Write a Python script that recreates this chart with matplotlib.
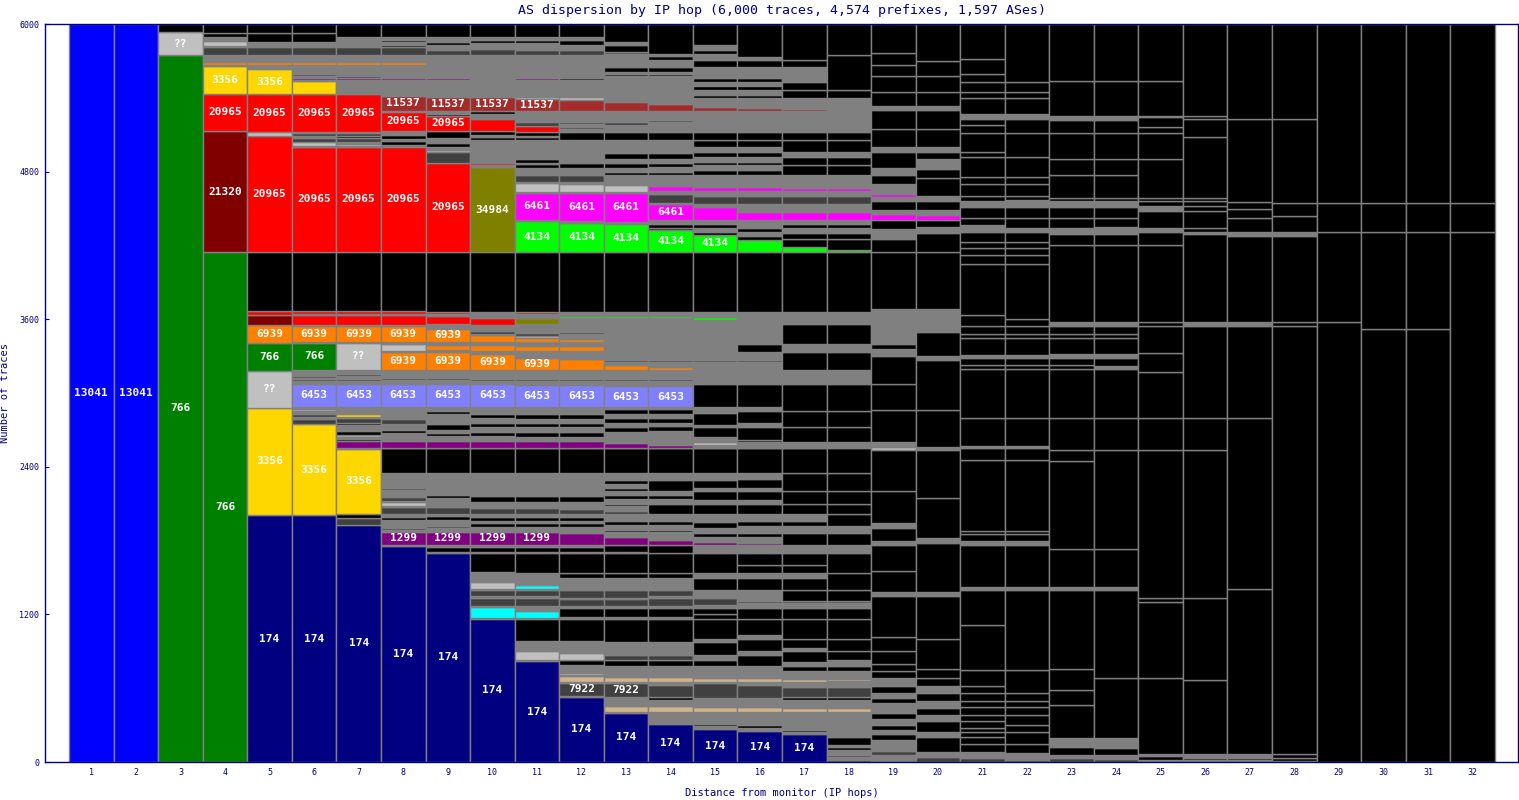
import numpy as np
import matplotlib
matplotlib.use("Agg")
import matplotlib.pyplot as plt

#------------------------------------------------------------------------
# colores por AS (codigo corto -> color)
colores = {
    'B': '#0000ff', 'G': '#008000', 'S': '#c0c0c0', 'D': '#404040',
    'g': '#808080', 'K': '#000000', 'O': '#ff8000', 'Y': '#ffd700',
    'R': '#ff0000', 'M': '#800000', 'W': '#a52a2a', 'L': '#808000',
    'P': '#ff00ff', 'E': '#00ff00', 'N': '#000080', 'V': '#8080ff',
    'U': '#800080', 'C': '#00ffff', 'T': '#d2b48c',
}

#------------------------------------------------------------------------
# datos: por salto, (tope acumulado de trazas, color, etiqueta) de abajo hacia arriba
hop1 = [(6000, 'B', '13041')]
hop2 = [(6000, 'B', '13041')]
hop3 = [(5748, 'G', '766'), (5932, 'S', '??'), (6000, 'K', '')]
hop4 = [(4146, 'G', '766'), (5130, 'M', '21320'), (5431, 'R', '20965'), (5659, 'Y', '3356'),
        (5667, 'g', ''), (5693, 'O', ''), (5705, 'g', ''), (5712, 'S', ''), (5748, 'g', ''),
        (5816, 'D', ''), (5824, 'g', ''), (5864, 'S', ''), (5897, 'g', ''), (5924, 'K', ''),
        (6000, 'K', '')]
hop5 = [(2008, 'N', '174'), (2881, 'Y', '3356'), (3179, 'S', '??'), (3409, 'G', '766'),
        (3553, 'O', '6939'), (3634, 'M', ''), (3667, 'R', ''), (4146, 'K', ''),
        (5092, 'R', '20965'), (5125, 'S', ''), (5431, 'R', '20965'), (5634, 'Y', '3356'),
        (5667, 'g', ''), (5693, 'O', ''), (5748, 'g', ''), (5816, 'D', ''), (5843, 'g', ''),
        (5856, 'K', ''), (5924, 'K', ''), (6000, 'K', '')]
hop6 = [(2008, 'N', '174'), (2745, 'Y', '3356'), (2790, 'D', ''), (2805, 'g', ''), (2830, 'D', ''),
        (2855, 'g', ''), (2870, 'S', ''), (2889, 'g', ''), (3073, 'V', '6453'), (3095, 'g', ''),
        (3110, 'D', ''), (3125, 'g', ''), (3140, 'D', ''), (3187, 'g', ''), (3409, 'G', '766'),
        (3417, 'g', ''), (3547, 'O', '6939'), (3553, 'g', ''), (3634, 'R', ''), (3642, 'g', ''),
        (3667, 'R', ''), (4146, 'K', ''), (5003, 'R', '20965'), (5011, 'g', ''), (5043, 'S', ''),
        (5070, 'D', ''), (5090, 'g', ''), (5110, 'D', ''), (5125, 'g', ''), (5431, 'R', '20965'),
        (5537, 'Y', ''), (5545, 'g', ''), (5563, 'U', ''), (5577, 'g', ''), (5590, 'D', ''),
        (5667, 'g', ''), (5693, 'O', ''), (5748, 'g', ''), (5816, 'D', ''), (5856, 'g', ''),
        (5924, 'K', ''), (6000, 'K', '')]
hop7 = [(1927, 'N', '174'), (1981, 'D', ''), (2016, 'K', ''), (2545, 'Y', '3356'), (2555, 'g', ''),
        (2610, 'U', ''), (2625, 'K', ''), (2642, 'g', ''), (2658, 'S', ''), (2690, 'K', ''),
        (2740, 'g', ''), (2756, 'K', ''), (2797, 'D', ''), (2807, 'g', ''), (2829, 'Y', ''),
        (2889, 'g', ''), (3073, 'V', '6453'), (3095, 'g', ''), (3110, 'D', ''), (3140, 'g', ''),
        (3155, 'D', ''), (3187, 'g', ''), (3409, 'S', '??'), (3417, 'g', ''), (3547, 'O', '6939'),
        (3553, 'g', ''), (3634, 'R', ''), (3642, 'g', ''), (3667, 'R', ''), (4146, 'K', ''),
        (5003, 'R', '20965'), (5011, 'g', ''), (5024, 'S', ''), (5043, 'g', ''), (5070, 'D', ''),
        (5090, 'K', ''), (5110, 'D', ''), (5125, 'g', ''), (5431, 'R', '20965'), (5450, 'g', ''),
        (5458, 'S', ''), (5545, 'g', ''), (5563, 'U', ''), (5577, 'D', ''), (5667, 'g', ''),
        (5693, 'O', ''), (5748, 'g', ''), (5816, 'D', ''), (5843, 'g', ''), (5856, 'K', ''),
        (5897, 'g', ''), (6000, 'K', '')]
hop8 = [(1758, 'N', '174'), (1764, 'g', ''), (1872, 'U', '1299'), (1890, 'g', ''), (1900, 'D', ''),
        (1935, 'g', ''), (1945, 'D', ''), (1970, 'g', ''), (1990, 'K', ''), (2016, 'g', ''),
        (2075, 'D', ''), (2081, 'g', ''), (2116, 'S', ''), (2125, 'g', ''), (2157, 'D', ''),
        (2211, 'g', ''), (2225, 'D', ''), (2347, 'g', ''), (2550, 'K', ''), (2555, 'g', ''),
        (2610, 'U', ''), (2672, 'g', ''), (2699, 'K', ''), (2748, 'g', ''), (2786, 'D', ''),
        (2840, 'g', ''), (2848, 'D', ''), (2889, 'g', ''), (3073, 'V', '6453'), (3106, 'g', ''),
        (3119, 'D', ''), (3187, 'g', ''), (3336, 'O', '6939'), (3344, 'g', ''), (3398, 'S', ''),
        (3417, 'g', ''), (3547, 'O', '6939'), (3553, 'g', ''), (3634, 'R', ''), (3642, 'g', ''),
        (3667, 'R', ''), (4146, 'K', ''), (5003, 'R', '20965'), (5011, 'g', ''), (5018, 'S', ''),
        (5050, 'K', ''), (5065, 'g', ''), (5100, 'K', ''), (5130, 'g', ''), (5287, 'R', '20965'),
        (5295, 'g', ''), (5415, 'W', '11537'), (5545, 'g', ''), (5563, 'U', ''), (5667, 'g', ''),
        (5693, 'O', ''), (5748, 'g', ''), (5816, 'D', ''), (5830, 'K', ''), (5856, 'g', ''),
        (5870, 'K', ''), (5897, 'g', ''), (6000, 'K', '')]
hop9 = [(1702, 'N', '174'), (1709, 'g', ''), (1750, 'K', ''), (1764, 'g', ''), (1872, 'U', '1299'),
        (1900, 'g', ''), (1915, 'D', ''), (1967, 'g', ''), (2000, 'K', ''), (2016, 'g', ''),
        (2075, 'D', ''), (2090, 'g', ''), (2095, 'S', ''), (2150, 'g', ''), (2170, 'K', ''),
        (2347, 'g', ''), (2550, 'K', ''), (2555, 'g', ''), (2610, 'U', ''), (2650, 'g', ''),
        (2672, 'K', ''), (2699, 'g', ''), (2750, 'K', ''), (2790, 'g', ''), (2800, 'S', ''),
        (2830, 'g', ''), (2850, 'K', ''), (2889, 'g', ''), (3073, 'V', '6453'), (3106, 'g', ''),
        (3119, 'D', ''), (3187, 'g', ''), (3336, 'O', '6939'), (3350, 'g', ''), (3390, 'O', ''),
        (3417, 'g', ''), (3520, 'O', '6939'), (3561, 'g', ''), (3626, 'R', ''), (3642, 'g', ''),
        (3660, 'R', ''), (4146, 'K', ''), (4872, 'R', '20965'), (4957, 'D', ''), (4976, 'S', ''),
        (5000, 'g', ''), (5030, 'K', ''), (5073, 'g', ''), (5130, 'K', ''), (5254, 'R', '20965'),
        (5266, 'K', ''), (5295, 'g', ''), (5404, 'W', '11537'), (5545, 'g', ''), (5563, 'U', ''),
        (5672, 'g', ''), (5680, 'O', ''), (5748, 'g', ''), (5789, 'D', ''), (5830, 'g', ''),
        (5856, 'K', ''), (5897, 'g', ''), (6000, 'K', '')]
hop10 = [(1163, 'N', '174'), (1168, 'g', ''), (1258, 'C', ''), (1268, 'g', ''), (1336, 'D', ''),
         (1346, 'g', ''), (1398, 'D', ''), (1407, 'g', ''), (1466, 'S', ''), (1534, 'g', ''),
         (1542, 'K', ''), (1702, 'K', ''), (1710, 'g', ''), (1750, 'K', ''), (1764, 'g', ''),
         (1872, 'U', '1299'), (1913, 'g', ''), (1940, 'K', ''), (1960, 'g', ''), (1990, 'K', ''),
         (2016, 'g', ''), (2062, 'D', ''), (2116, 'g', ''), (2160, 'K', ''), (2347, 'g', ''),
         (2550, 'K', ''), (2555, 'g', ''), (2610, 'U', ''), (2650, 'g', ''), (2680, 'K', ''),
         (2720, 'g', ''), (2760, 'K', ''), (2800, 'g', ''), (2830, 'K', ''), (2889, 'g', ''),
         (3073, 'V', '6453'), (3100, 'g', ''), (3110, 'D', ''), (3187, 'g', ''), (3317, 'O', '6939'),
         (3344, 'g', ''), (3390, 'O', ''), (3417, 'g', ''), (3472, 'O', ''), (3480, 'g', ''),
         (3507, 'D', ''), (3553, 'g', ''), (3612, 'R', ''), (3648, 'g', ''), (3661, 'W', ''),
         (4146, 'K', ''), (4834, 'L', '34984'), (4854, 'g', ''), (4866, 'R', ''), (4900, 'g', ''),
         (4908, 'S', ''), (4921, 'g', ''), (4930, 'P', ''), (4955, 'g', ''), (4962, 'P', ''),
         (5057, 'g', ''), (5080, 'K', ''), (5100, 'g', ''), (5130, 'K', ''), (5228, 'R', ''),
         (5266, 'g', ''), (5295, 'K', ''), (5404, 'W', '11537'), (5553, 'g', ''), (5563, 'U', ''),
         (5748, 'g', ''), (5794, 'D', ''), (5843, 'g', ''), (5870, 'K', ''), (5897, 'g', ''),
         (6000, 'K', '')]
hop11 = [(821, 'N', '174'), (829, 'g', ''), (902, 'S', ''), (984, 'g', ''), (1163, 'K', ''),
         (1168, 'g', ''), (1230, 'C', ''), (1268, 'g', ''), (1336, 'D', ''), (1346, 'g', ''),
         (1398, 'D', ''), (1406, 'g', ''), (1439, 'C', ''), (1470, 'g', ''), (1480, 'D', ''),
         (1534, 'g', ''), (1702, 'K', ''), (1710, 'g', ''), (1750, 'K', ''), (1764, 'g', ''),
         (1872, 'U', '1299'), (1913, 'g', ''), (1940, 'K', ''), (1960, 'g', ''), (1990, 'K', ''),
         (2016, 'g', ''), (2062, 'D', ''), (2116, 'g', ''), (2160, 'K', ''), (2347, 'g', ''),
         (2550, 'K', ''), (2555, 'g', ''), (2610, 'U', ''), (2640, 'g', ''), (2680, 'K', ''),
         (2720, 'g', ''), (2760, 'K', ''), (2790, 'g', ''), (2830, 'K', ''), (2889, 'g', ''),
         (3062, 'V', '6453'), (3100, 'g', ''), (3115, 'D', ''), (3187, 'g', ''), (3286, 'O', '6939'),
         (3344, 'g', ''), (3380, 'O', ''), (3417, 'g', ''), (3450, 'O', ''), (3460, 'S', ''),
         (3490, 'D', ''), (3561, 'g', ''), (3612, 'L', ''), (3640, 'g', ''), (3655, 'W', ''),
         (4146, 'K', ''), (4398, 'E', '4134'), (4407, 'g', ''), (4629, 'P', '6461'), (4637, 'g', ''),
         (4710, 'S', ''), (4718, 'g', ''), (4772, 'D', ''), (4827, 'g', ''), (4860, 'K', ''),
         (4870, 'g', ''), (4902, 'K', ''), (4910, 'P', ''), (4950, 'g', ''), (4962, 'P', ''),
         (5057, 'g', ''), (5080, 'K', ''), (5090, 'g', ''), (5125, 'K', ''), (5173, 'R', ''),
         (5206, 'D', ''), (5295, 'g', ''), (5390, 'W', '11537'), (5404, 'S', ''), (5545, 'g', ''),
         (5563, 'U', ''), (5748, 'g', ''), (5789, 'D', ''), (5843, 'g', ''), (5870, 'K', ''),
         (5897, 'g', ''), (6000, 'K', '')]
hop12 = [(531, 'N', '174'), (537, 'g', ''), (645, 'D', '7922'), (648, 'g', ''), (699, 'T', ''),
         (705, 'g', ''), (720, 'S', ''), (789, 'g', ''), (829, 'K', ''), (889, 'S', ''),
         (915, 'g', ''), (930, 'D', ''), (984, 'g', ''), (1163, 'K', ''), (1173, 'g', ''),
         (1181, 'C', ''), (1255, 'K', ''), (1268, 'g', ''), (1325, 'D', ''), (1336, 'g', ''),
         (1398, 'D', ''), (1420, 'g', ''), (1430, 'K', ''), (1493, 'g', ''), (1534, 'K', ''),
         (1702, 'K', ''), (1710, 'g', ''), (1750, 'K', ''), (1764, 'g', ''), (1859, 'U', ''),
         (1913, 'g', ''), (1940, 'K', ''), (1960, 'g', ''), (1990, 'K', ''), (2016, 'g', ''),
         (2058, 'D', ''), (2116, 'g', ''), (2160, 'K', ''), (2347, 'g', ''), (2550, 'K', ''),
         (2555, 'g', ''), (2610, 'U', ''), (2640, 'g', ''), (2680, 'K', ''), (2720, 'g', ''),
         (2760, 'K', ''), (2790, 'g', ''), (2830, 'K', ''), (2889, 'g', ''), (3062, 'V', '6453'),
         (3100, 'g', ''), (3115, 'D', ''), (3187, 'g', ''), (3276, 'O', ''), (3344, 'g', ''),
         (3380, 'O', ''), (3417, 'g', ''), (3440, 'O', ''), (3480, 'g', ''), (3500, 'D', ''),
         (3590, 'g', ''), (3605, 'P', ''), (3612, 'g', ''), (3622, 'E', ''), (3660, 'g', ''),
         (4146, 'K', ''), (4386, 'E', '4134'), (4398, 'g', ''), (4629, 'P', '6461'), (4637, 'g', ''),
         (4700, 'S', ''), (4718, 'g', ''), (4772, 'D', ''), (4827, 'g', ''), (4870, 'K', ''),
         (4902, 'g', ''), (4910, 'P', ''), (4950, 'g', ''), (4962, 'P', ''), (5057, 'g', ''),
         (5125, 'K', ''), (5150, 'g', ''), (5160, 'D', ''), (5190, 'g', ''), (5206, 'D', ''),
         (5295, 'g', ''), (5382, 'W', ''), (5404, 'S', ''), (5545, 'g', ''), (5563, 'K', ''),
         (5748, 'g', ''), (5789, 'D', ''), (5830, 'g', ''), (5870, 'K', ''), (5897, 'g', ''),
         (6000, 'K', '')]
hop13 = [(401, 'N', '174'), (404, 'g', ''), (458, 'T', ''), (465, 'g', ''), (472, 'S', ''),
         (531, 'g', ''), (640, 'D', '7922'), (648, 'g', ''), (692, 'T', ''), (784, 'g', ''),
         (829, 'K', ''), (870, 'D', ''), (978, 'g', ''), (1163, 'K', ''), (1173, 'g', ''),
         (1181, 'C', ''), (1255, 'K', ''), (1268, 'g', ''), (1325, 'D', ''), (1336, 'g', ''),
         (1398, 'D', ''), (1493, 'g', ''), (1534, 'K', ''), (1702, 'K', ''), (1710, 'g', ''),
         (1764, 'K', ''), (1827, 'U', ''), (1870, 'g', ''), (1890, 'K', ''), (1930, 'g', ''),
         (1960, 'K', ''), (2016, 'g', ''), (2040, 'D', ''), (2080, 'g', ''), (2100, 'K', ''),
         (2140, 'g', ''), (2170, 'K', ''), (2200, 'g', ''), (2230, 'K', ''), (2260, 'g', ''),
         (2290, 'K', ''), (2347, 'g', ''), (2550, 'K', ''), (2555, 'g', ''), (2590, 'U', ''),
         (2640, 'g', ''), (2652, 'S', ''), (2680, 'g', ''), (2720, 'K', ''), (2760, 'g', ''),
         (2800, 'K', ''), (2830, 'g', ''), (2870, 'K', ''), (2889, 'g', ''), (3054, 'V', '6453'),
         (3100, 'g', ''), (3115, 'D', ''), (3187, 'g', ''), (3228, 'O', ''), (3250, 'g', ''),
         (3265, 'D', ''), (3340, 'g', ''), (3350, 'O', ''), (3430, 'g', ''), (3440, 'D', ''),
         (3590, 'g', ''), (3605, 'P', ''), (3612, 'g', ''), (3622, 'E', ''), (3660, 'g', ''),
         (4146, 'K', ''), (4374, 'E', '4134'), (4393, 'g', ''), (4624, 'P', '6461'), (4637, 'g', ''),
         (4691, 'S', ''), (4772, 'g', ''), (4800, 'K', ''), (4830, 'g', ''), (4870, 'K', ''),
         (4900, 'g', ''), (4948, 'K', ''), (5057, 'g', ''), (5125, 'K', ''), (5179, 'g', ''),
         (5206, 'D', ''), (5295, 'g', ''), (5368, 'W', ''), (5577, 'g', ''), (5590, 'K', ''),
         (5612, 'g', ''), (5653, 'K', ''), (5756, 'g', ''), (5775, 'D', ''), (5830, 'K', ''),
         (5850, 'g', ''), (6000, 'K', '')]
hop14 = [(309, 'N', '174'), (404, 'g', ''), (458, 'T', ''), (504, 'g', ''), (531, 'K', ''),
         (626, 'D', ''), (648, 'g', ''), (694, 'T', ''), (783, 'g', ''), (829, 'K', ''),
         (870, 'D', ''), (978, 'g', ''), (1163, 'K', ''), (1173, 'g', ''), (1181, 'C', ''),
         (1255, 'K', ''), (1268, 'g', ''), (1336, 'D', ''), (1346, 'g', ''), (1398, 'D', ''),
         (1493, 'g', ''), (1534, 'K', ''), (1702, 'K', ''), (1764, 'K', ''), (1805, 'U', ''),
         (1870, 'g', ''), (1890, 'K', ''), (1930, 'g', ''), (1960, 'K', ''), (2016, 'g', ''),
         (2100, 'K', ''), (2140, 'g', ''), (2170, 'K', ''), (2200, 'g', ''), (2290, 'K', ''),
         (2347, 'g', ''), (2550, 'K', ''), (2555, 'g', ''), (2580, 'U', ''), (2640, 'g', ''),
         (2652, 'S', ''), (2690, 'g', ''), (2730, 'K', ''), (2760, 'g', ''), (2800, 'K', ''),
         (2830, 'g', ''), (2870, 'K', ''), (2889, 'g', ''), (3054, 'V', '6453'), (3100, 'g', ''),
         (3115, 'D', ''), (3187, 'g', ''), (3210, 'O', ''), (3250, 'g', ''), (3265, 'D', ''),
         (3330, 'g', ''), (3338, 'O', ''), (3590, 'g', ''), (3605, 'P', ''), (3612, 'g', ''),
         (3622, 'E', ''), (3660, 'g', ''), (4146, 'K', ''), (4325, 'E', '4134'), (4345, 'K', ''),
         (4374, 'K', ''), (4407, 'g', ''), (4537, 'P', '6461'), (4548, 'g', ''), (4618, 'D', ''),
         (4644, 'g', ''), (4683, 'P', ''), (4772, 'g', ''), (4800, 'K', ''), (4840, 'g', ''),
         (4870, 'K', ''), (4900, 'g', ''), (4948, 'K', ''), (5057, 'g', ''), (5125, 'K', ''),
         (5206, 'g', ''), (5220, 'D', ''), (5295, 'g', ''), (5350, 'W', ''), (5577, 'g', ''),
         (5590, 'K', ''), (5612, 'g', ''), (5653, 'K', ''), (5707, 'g', ''), (5740, 'K', ''),
         (5760, 'g', ''), (6000, 'K', '')]
hop15 = [(268, 'N', '174'), (290, 'g', ''), (310, 'K', ''), (409, 'g', ''), (450, 'T', ''),
         (523, 'g', ''), (640, 'D', ''), (652, 'g', ''), (680, 'T', ''), (784, 'g', ''),
         (829, 'K', ''), (870, 'g', ''), (978, 'K', ''), (1000, 'g', ''), (1163, 'K', ''),
         (1200, 'K', ''), (1255, 'K', ''), (1280, 'g', ''), (1336, 'D', ''), (1398, 'g', ''),
         (1493, 'K', ''), (1534, 'g', ''), (1702, 'K', ''), (1764, 'g', ''), (1789, 'U', ''),
         (1830, 'g', ''), (1860, 'K', ''), (1900, 'g', ''), (1950, 'K', ''), (2016, 'g', ''),
         (2100, 'K', ''), (2130, 'g', ''), (2200, 'K', ''), (2230, 'g', ''), (2290, 'K', ''),
         (2347, 'g', ''), (2550, 'K', ''), (2555, 'g', ''), (2565, 'U', ''), (2580, 'g', ''),
         (2600, 'S', ''), (2640, 'g', ''), (2720, 'K', ''), (2740, 'g', ''), (2840, 'K', ''),
         (2889, 'g', ''), (3073, 'K', ''), (3250, 'g', ''), (3265, 'D', ''), (3590, 'g', ''),
         (3615, 'E', ''), (3660, 'g', ''), (4146, 'K', ''), (4285, 'E', '4134'), (4310, 'K', ''),
         (4340, 'g', ''), (4374, 'K', ''), (4407, 'g', ''), (4512, 'P', ''), (4540, 'g', ''),
         (4600, 'D', ''), (4644, 'g', ''), (4675, 'P', ''), (4772, 'g', ''), (4810, 'K', ''),
         (4850, 'g', ''), (4880, 'K', ''), (4920, 'g', ''), (4960, 'K', ''), (5000, 'g', ''),
         (5057, 'K', ''), (5125, 'K', ''), (5296, 'g', ''), (5325, 'W', ''), (5400, 'g', ''),
         (5420, 'K', ''), (5460, 'g', ''), (5500, 'K', ''), (5530, 'g', ''), (5560, 'K', ''),
         (5653, 'g', ''), (5710, 'K', ''), (5760, 'g', ''), (5790, 'K', ''), (5830, 'g', ''),
         (6000, 'K', '')]
hop16 = [(252, 'N', '174'), (276, 'g', ''), (300, 'K', ''), (409, 'g', ''), (450, 'T', ''),
         (523, 'g', ''), (630, 'D', ''), (652, 'g', ''), (680, 'T', ''), (784, 'g', ''),
         (870, 'K', ''), (900, 'g', ''), (1000, 'K', ''), (1030, 'g', ''), (1163, 'K', ''),
         (1255, 'K', ''), (1290, 'g', ''), (1310, 'D', ''), (1398, 'g', ''), (1500, 'K', ''),
         (1534, 'g', ''), (1600, 'K', ''), (1702, 'K', ''), (1764, 'g', ''), (1778, 'U', ''),
         (1830, 'g', ''), (1860, 'K', ''), (1920, 'g', ''), (1960, 'K', ''), (2016, 'g', ''),
         (2100, 'K', ''), (2130, 'g', ''), (2200, 'K', ''), (2230, 'g', ''), (2300, 'K', ''),
         (2347, 'g', ''), (2550, 'K', ''), (2555, 'g', ''), (2562, 'U', ''), (2600, 'g', ''),
         (2620, 'K', ''), (2720, 'K', ''), (2760, 'g', ''), (2850, 'K', ''), (2889, 'g', ''),
         (3073, 'K', ''), (3250, 'g', ''), (3265, 'D', ''), (3330, 'g', ''), (3400, 'K', ''),
         (3660, 'g', ''), (4146, 'K', ''), (4244, 'E', ''), (4280, 'K', ''), (4310, 'g', ''),
         (4340, 'K', ''), (4407, 'g', ''), (4472, 'P', ''), (4540, 'g', ''), (4600, 'D', ''),
         (4644, 'g', ''), (4675, 'P', ''), (4772, 'g', ''), (4810, 'K', ''), (4850, 'g', ''),
         (4880, 'K', ''), (4920, 'g', ''), (4960, 'K', ''), (5000, 'g', ''), (5057, 'K', ''),
         (5125, 'K', ''), (5296, 'g', ''), (5315, 'W', ''), (5400, 'g', ''), (5420, 'K', ''),
         (5460, 'g', ''), (5500, 'K', ''), (5530, 'g', ''), (5560, 'K', ''), (5653, 'g', ''),
         (5710, 'K', ''), (5730, 'g', ''), (6000, 'K', '')]
hop17 = [(225, 'N', '174'), (240, 'g', ''), (260, 'K', ''), (409, 'g', ''), (437, 'T', ''),
         (504, 'g', ''), (531, 'K', ''), (612, 'D', ''), (652, 'g', ''), (672, 'T', ''),
         (740, 'g', ''), (784, 'K', ''), (810, 'g', ''), (900, 'K', ''), (930, 'g', ''),
         (1000, 'K', ''), (1163, 'K', ''), (1255, 'K', ''), (1290, 'g', ''), (1310, 'D', ''),
         (1398, 'K', ''), (1500, 'K', ''), (1534, 'g', ''), (1600, 'K', ''), (1702, 'K', ''),
         (1764, 'g', ''), (1860, 'K', ''), (1920, 'g', ''), (1960, 'K', ''), (2016, 'g', ''),
         (2100, 'K', ''), (2200, 'K', ''), (2347, 'K', ''), (2550, 'K', ''), (2555, 'g', ''),
         (2562, 'U', ''), (2600, 'g', ''), (2720, 'K', ''), (2850, 'K', ''), (3073, 'K', ''),
         (3187, 'g', ''), (3330, 'K', ''), (3400, 'g', ''), (3560, 'K', ''), (3660, 'g', ''),
         (4146, 'K', ''), (4187, 'E', ''), (4250, 'K', ''), (4300, 'K', ''), (4340, 'g', ''),
         (4374, 'K', ''), (4407, 'g', ''), (4472, 'P', ''), (4540, 'g', ''), (4600, 'D', ''),
         (4644, 'g', ''), (4665, 'P', ''), (4772, 'g', ''), (4850, 'K', ''), (4920, 'K', ''),
         (4960, 'g', ''), (5057, 'K', ''), (5125, 'K', ''), (5296, 'g', ''), (5310, 'W', ''),
         (5400, 'g', ''), (5460, 'K', ''), (5530, 'K', ''), (5653, 'g', ''), (5710, 'K', ''),
         (6000, 'K', '')]
hop18 = [(20, 'D', ''), (40, 'g', ''), (60, 'D', ''), (100, 'g', ''), (120, 'K', ''),
         (140, 'g', ''), (203, 'K', ''), (409, 'g', ''), (437, 'T', ''), (504, 'g', ''),
         (531, 'K', ''), (612, 'D', ''), (660, 'g', ''), (672, 'T', ''), (740, 'g', ''),
         (784, 'K', ''), (830, 'g', ''), (900, 'K', ''), (1000, 'K', ''), (1163, 'K', ''),
         (1255, 'K', ''), (1290, 'g', ''), (1310, 'D', ''), (1398, 'K', ''), (1534, 'K', ''),
         (1702, 'K', ''), (1764, 'g', ''), (1860, 'K', ''), (1920, 'g', ''), (2016, 'K', ''),
         (2100, 'K', ''), (2200, 'K', ''), (2347, 'K', ''), (2555, 'K', ''), (2600, 'g', ''),
         (2720, 'K', ''), (2850, 'K', ''), (3073, 'K', ''), (3187, 'g', ''), (3330, 'K', ''),
         (3400, 'g', ''), (3560, 'K', ''), (3660, 'g', ''), (4146, 'K', ''), (4165, 'E', ''),
         (4250, 'K', ''), (4300, 'K', ''), (4340, 'g', ''), (4374, 'K', ''), (4407, 'g', ''),
         (4472, 'P', ''), (4540, 'g', ''), (4600, 'D', ''), (4644, 'g', ''), (4665, 'P', ''),
         (4772, 'g', ''), (4850, 'K', ''), (4920, 'K', ''), (4960, 'g', ''), (5057, 'K', ''),
         (5125, 'K', ''), (5296, 'g', ''), (5400, 'g', ''), (5460, 'K', ''), (5748, 'K', ''),
         (6000, 'K', '')]
hop19 = [(60, 'g', ''), (90, 'D', ''), (180, 'g', ''), (230, 'K', ''), (260, 'g', ''),
         (300, 'K', ''), (350, 'g', ''), (400, 'K', ''), (430, 'g', ''), (437, 'T', ''),
         (480, 'g', ''), (520, 'K', ''), (560, 'g', ''), (620, 'K', ''), (680, 'g', ''),
         (740, 'K', ''), (800, 'K', ''), (900, 'K', ''), (1020, 'K', ''), (1350, 'K', ''),
         (1380, 'g', ''), (1550, 'K', ''), (1764, 'K', ''), (1800, 'g', ''), (1900, 'K', ''),
         (1940, 'g', ''), (2200, 'K', ''), (2540, 'K', ''), (2560, 'S', ''), (2600, 'g', ''),
         (2860, 'K', ''), (3073, 'K', ''), (3300, 'K', ''), (3360, 'g', ''), (3400, 'K', ''),
         (3500, 'g', ''), (3680, 'g', ''), (4146, 'K', ''), (4250, 'K', ''), (4330, 'g', ''),
         (4407, 'K', ''), (4455, 'P', ''), (4490, 'g', ''), (4560, 'K', ''), (4590, 'g', ''),
         (4620, 'P', ''), (4700, 'g', ''), (4770, 'K', ''), (4830, 'g', ''), (4962, 'K', ''),
         (5003, 'g', ''), (5150, 'K', ''), (5300, 'K', ''), (5333, 'g', ''), (5450, 'K', ''),
         (5577, 'K', ''), (5667, 'K', ''), (5762, 'K', ''), (6000, 'K', '')]
hop20 = [(40, 'D', ''), (85, 'g', ''), (200, 'K', ''), (240, 'g', ''), (330, 'K', ''),
         (380, 'g', ''), (440, 'K', ''), (500, 'g', ''), (560, 'K', ''), (620, 'g', ''),
         (680, 'K', ''), (760, 'K', ''), (1000, 'K', ''), (1350, 'K', ''), (1380, 'g', ''),
         (1780, 'K', ''), (1820, 'g', ''), (2150, 'K', ''), (2540, 'K', ''), (2560, 'g', ''),
         (2860, 'K', ''), (3270, 'K', ''), (3300, 'g', ''), (3500, 'K', ''), (3680, 'g', ''),
         (4146, 'K', ''), (4300, 'K', ''), (4350, 'g', ''), (4407, 'K', ''), (4450, 'P', ''),
         (4490, 'g', ''), (4560, 'K', ''), (4600, 'g', ''), (4750, 'K', ''), (4820, 'K', ''),
         (4900, 'g', ''), (4962, 'K', ''), (5003, 'g', ''), (5150, 'K', ''), (5300, 'K', ''),
         (5333, 'g', ''), (5450, 'K', ''), (5577, 'K', ''), (5700, 'K', ''), (6000, 'K', '')]
hop21 = [(30, 'D', ''), (84, 'g', ''), (150, 'K', ''), (200, 'K', ''), (240, 'K', ''),
         (280, 'K', ''), (330, 'K', ''), (380, 'K', ''), (450, 'K', ''), (500, 'K', ''),
         (560, 'K', ''), (620, 'K', ''), (750, 'K', ''), (1112, 'K', ''), (1402, 'K', ''),
         (1420, 'g', ''), (1764, 'K', ''), (1794, 'g', ''), (1851, 'K', ''), (1878, 'K', ''),
         (2452, 'K', ''), (2554, 'K', ''), (2570, 'g', ''), (2800, 'K', ''), (3198, 'K', ''),
         (3230, 'K', ''), (3285, 'K', ''), (3313, 'g', ''), (3444, 'K', ''), (3480, 'K', ''),
         (3545, 'K', ''), (3632, 'K', ''), (4050, 'K', ''), (4120, 'K', ''), (4180, 'K', ''),
         (4230, 'K', ''), (4312, 'K', ''), (4369, 'g', ''), (4420, 'K', ''), (4512, 'K', ''),
         (4560, 'g', ''), (4601, 'K', ''), (4700, 'K', ''), (4760, 'K', ''), (4920, 'K', ''),
         (4960, 'K', ''), (5117, 'K', ''), (5180, 'K', ''), (5228, 'K', ''), (5268, 'g', ''),
         (5398, 'K', ''), (5447, 'K', ''), (5528, 'K', ''), (5592, 'K', ''), (5717, 'K', ''),
         (6000, 'K', '')]
hop22 = [(20, 'D', ''), (70, 'g', ''), (150, 'K', ''), (240, 'K', ''), (300, 'K', ''),
         (380, 'K', ''), (450, 'K', ''), (500, 'K', ''), (560, 'K', ''), (750, 'K', ''),
         (1402, 'K', ''), (1420, 'g', ''), (1764, 'K', ''), (1794, 'g', ''), (1851, 'K', ''),
         (1878, 'K', ''), (2452, 'K', ''), (2554, 'K', ''), (2570, 'g', ''), (2800, 'K', ''),
         (3198, 'K', ''), (3230, 'K', ''), (3285, 'K', ''), (3313, 'g', ''), (3444, 'K', ''),
         (3480, 'K', ''), (3545, 'K', ''), (3600, 'K', ''), (4050, 'K', ''), (4120, 'K', ''),
         (4180, 'K', ''), (4230, 'K', ''), (4312, 'K', ''), (4340, 'g', ''), (4420, 'K', ''),
         (4512, 'K', ''), (4570, 'g', ''), (4601, 'K', ''), (4700, 'K', ''), (4760, 'K', ''),
         (4920, 'K', ''), (5117, 'K', ''), (5228, 'K', ''), (5268, 'g', ''), (5398, 'K', ''),
         (5447, 'K', ''), (5528, 'K', ''), (6000, 'K', '')]
hop23 = [(30, 'D', ''), (60, 'g', ''), (120, 'K', ''), (199, 'g', ''), (460, 'K', ''),
         (582, 'K', ''), (756, 'K', ''), (1402, 'K', ''), (1420, 'g', ''), (1730, 'K', ''),
         (2450, 'K', ''), (2539, 'K', ''), (2800, 'K', ''), (3198, 'K', ''), (3230, 'K', ''),
         (3285, 'K', ''), (3320, 'g', ''), (3444, 'K', ''), (3480, 'K', ''), (3545, 'K', ''),
         (3574, 'g', ''), (4200, 'K', ''), (4296, 'K', ''), (4341, 'g', ''), (4420, 'K', ''),
         (4512, 'K', ''), (4560, 'g', ''), (4586, 'K', ''), (4774, 'K', ''), (4905, 'K', ''),
         (5117, 'K', ''), (5220, 'K', ''), (5253, 'g', ''), (5534, 'K', ''), (6000, 'K', '')]
hop24 = [(25, 'D', ''), (60, 'g', ''), (110, 'K', ''), (199, 'g', ''), (686, 'K', ''),
         (1402, 'K', ''), (1420, 'g', ''), (1730, 'K', ''), (2539, 'K', ''), (2800, 'K', ''),
         (3198, 'K', ''), (3220, 'g', ''), (3285, 'K', ''), (3320, 'g', ''), (3444, 'K', ''),
         (3480, 'K', ''), (3545, 'K', ''), (3574, 'g', ''), (4200, 'K', ''), (4296, 'K', ''),
         (4350, 'g', ''), (4420, 'K', ''), (4512, 'K', ''), (4560, 'g', ''), (4586, 'K', ''),
         (4774, 'K', ''), (4905, 'K', ''), (5117, 'K', ''), (5220, 'K', ''), (5253, 'g', ''),
         (5534, 'K', ''), (6000, 'K', '')]
hop25 = [(20, 'g', ''), (45, 'K', ''), (69, 'g', ''), (686, 'K', ''), (1297, 'K', ''),
         (1336, 'K', ''), (2539, 'K', ''), (2800, 'K', ''), (3174, 'K', ''), (3322, 'K', ''),
         (3545, 'K', ''), (3574, 'K', ''), (4203, 'K', ''), (4312, 'K', ''), (4341, 'g', ''),
         (4480, 'K', ''), (4520, 'g', ''), (4560, 'K', ''), (4586, 'K', ''), (4905, 'K', ''),
         (5110, 'K', ''), (5160, 'K', ''), (5240, 'K', ''), (5253, 'g', ''), (5534, 'K', ''),
         (6000, 'K', '')]
hop26 = [(15, 'g', ''), (35, 'K', ''), (69, 'g', ''), (663, 'K', ''), (1336, 'K', ''),
         (2539, 'K', ''), (2800, 'K', ''), (3545, 'K', ''), (3574, 'g', ''), (4290, 'K', ''),
         (4312, 'g', ''), (4340, 'K', ''), (4480, 'K', ''), (4520, 'K', ''), (4560, 'K', ''),
         (4586, 'K', ''), (5079, 'K', ''), (5230, 'K', ''), (5253, 'K', ''), (6000, 'K', '')]
hop27 = [(15, 'g', ''), (35, 'K', ''), (69, 'g', ''), (1408, 'K', ''), (2800, 'K', ''),
         (3545, 'K', ''), (3574, 'g', ''), (4280, 'K', ''), (4312, 'g', ''), (4420, 'K', ''),
         (4500, 'K', ''), (4551, 'K', ''), (5230, 'K', ''), (6000, 'K', '')]
hop28 = [(10, 'K', ''), (30, 'K', ''), (69, 'K', ''), (3545, 'K', ''), (3577, 'K', ''),
         (4280, 'K', ''), (4312, 'g', ''), (4436, 'K', ''), (4545, 'K', ''), (5230, 'K', ''),
         (6000, 'K', '')]
hop29 = [(3577, 'K', ''), (4309, 'K', ''), (4545, 'K', ''), (6000, 'K', '')]
hop30 = [(3522, 'K', ''), (4309, 'K', ''), (4545, 'K', ''), (6000, 'K', '')]
hop31 = [(3522, 'K', ''), (4309, 'K', ''), (4545, 'K', ''), (6000, 'K', '')]
hop32 = [(4309, 'K', ''), (4545, 'K', ''), (6000, 'K', '')]

saltos = [hop1, hop2, hop3, hop4, hop5, hop6, hop7, hop8, hop9, hop10, hop11, hop12,
          hop13, hop14, hop15, hop16, hop17, hop18, hop19, hop20, hop21, hop22, hop23,
          hop24, hop25, hop26, hop27, hop28, hop29, hop30, hop31, hop32]

y_ticks = [0, 1200, 2400, 3600, 4800, 6000]
titulo = "AS dispersion by IP hop (6,000 traces, 4,574 prefixes, 1,597 ASes)"

#------------------------------------------------------------------------
azul = '#000080'
fuente = 'DejaVu Sans Mono'

fig = plt.figure(figsize=(15.19, 8.0), dpi=100)
ax = fig.add_axes([45 / 1519, 38 / 800, 1473 / 1519, 738 / 800])

for i, col in enumerate(saltos):
    x = i + 1
    abajo = 0
    for tope, c, etiqueta in col:
        alto = tope - abajo
        ax.bar(x, alto, bottom=abajo, width=1.0, color=colores[c],
               edgecolor='#808080', linewidth=1.0)
        if etiqueta:
            ax.text(x, abajo + alto / 2, etiqueta, color='white', ha='center', va='center',
                    fontsize=8, fontweight='bold', family=fuente)
        abajo = tope

ax.set_xlim(-0.04, 33.02)
ax.set_ylim(0, 6000)
ax.set_xticks(range(1, 33))
ax.set_xticklabels([str(i) for i in range(1, 33)], fontsize=6, family=fuente, color=azul)
ax.set_yticks(y_ticks)
ax.set_yticklabels([str(v) for v in y_ticks], fontsize=6, family=fuente, color=azul)
ax.tick_params(axis='x', length=0, pad=4)
ax.tick_params(axis='y', direction='in', length=3, color=azul, pad=4)
for s in ax.spines.values():
    s.set_color(azul)
    s.set_linewidth(1.0)

ax.set_title(titulo, fontsize=9.5, family=fuente, color=azul, pad=7)
ax.set_xlabel("Distance from monitor (IP hops)", fontsize=7.5, family=fuente, color=azul, labelpad=8)
ax.set_ylabel("Number of traces", fontsize=7.5, family=fuente, color=azul, labelpad=7)

fig.savefig("out.png", dpi=100)
